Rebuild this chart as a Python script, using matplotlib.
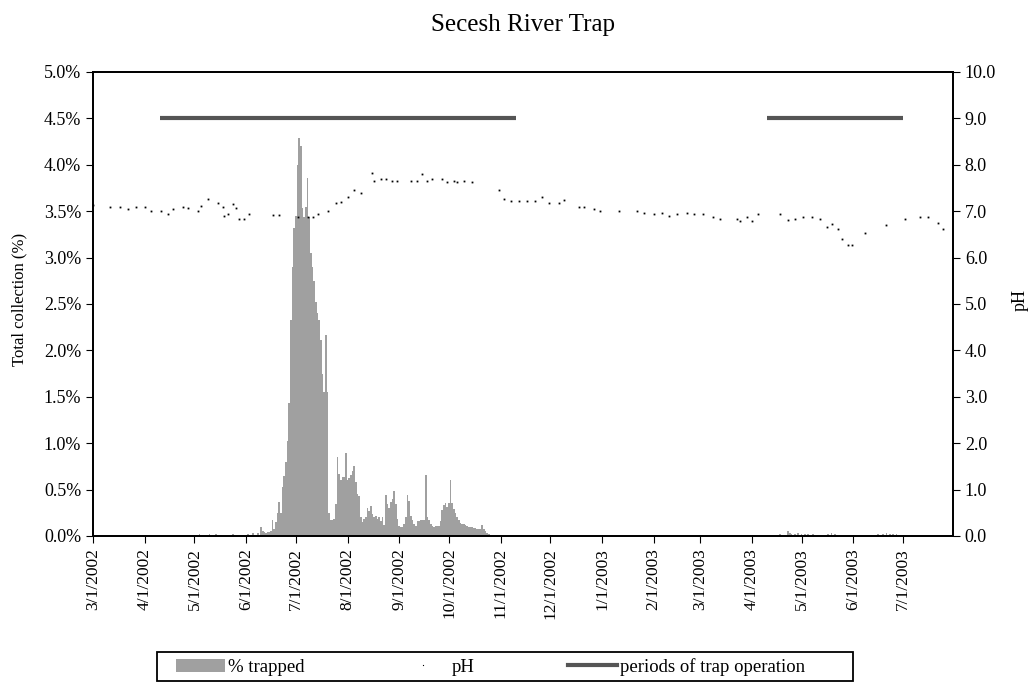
import numpy as np
import pandas as pd
import matplotlib
matplotlib.use("Agg")
import matplotlib.pyplot as plt
import matplotlib.dates as mdates
from matplotlib.ticker import FuncFormatter
from matplotlib.patches import Patch, Rectangle
from matplotlib.lines import Line2D

plt.rcParams['font.family'] = ['Liberation Serif', 'DejaVu Serif']

# daily % trapped, consecutive days starting 6/10/2002
trapped_start = "2002-06-10"
trapped_2002 = [
    0.10, 0.05, 0.04, 0.03, 0.04, 0.04, 0.05, 0.17, 0.08, 0.15,
    0.25, 0.37, 0.25, 0.53, 0.65, 0.80, 1.02, 1.43, 2.33, 2.90,
    3.32,
    3.45, 4.00, 4.29, 4.20, 3.53, 3.44, 3.54, 3.86, 3.44, 3.05,
    2.90, 2.75, 2.52, 2.40, 2.33, 2.11, 1.75, 1.55, 2.17, 1.55,
    0.25,
    0.17, 0.17, 0.18, 0.35, 0.85, 0.67, 0.60, 0.64, 0.64, 0.89,
    0.60, 0.62, 0.66, 0.70, 0.75, 0.58, 0.45, 0.43, 0.20, 0.15,
    0.18, 0.20, 0.30, 0.27, 0.32, 0.24, 0.20, 0.22, 0.18, 0.21,
    0.16, 0.20, 0.12, 0.44, 0.34, 0.30, 0.37, 0.40, 0.49, 0.35,
    0.18, 0.11, 0.10, 0.10, 0.13, 0.20, 0.44, 0.38, 0.22, 0.17,
    0.13, 0.11, 0.16, 0.16, 0.17, 0.17, 0.17, 0.66, 0.20, 0.17,
    0.13, 0.11, 0.10, 0.11, 0.11, 0.11, 0.16, 0.28, 0.33, 0.36,
    0.31, 0.36, 0.60, 0.36, 0.29, 0.25, 0.20, 0.17, 0.14, 0.13,
    0.13, 0.12, 0.11, 0.10, 0.10, 0.10, 0.09, 0.09, 0.08, 0.08,
    0.08, 0.12, 0.08, 0.05, 0.03, 0.02,
]

# scattered small catches
other_dates = ["2002-05-04", "2002-05-10", "2002-05-14", "2002-05-17", "2002-05-24",
               "2002-06-02", "2002-06-05", "2002-06-08",
               "2003-04-17", "2003-04-18", "2003-04-23", "2003-04-24", "2003-04-25",
               "2003-04-27", "2003-04-29", "2003-05-01", "2003-05-03", "2003-05-05",
               "2003-05-08", "2003-05-11", "2003-05-17", "2003-05-19", "2003-05-21",
               "2003-06-12", "2003-06-16", "2003-06-19", "2003-06-21", "2003-06-23",
               "2003-06-25", "2003-06-27", "2003-06-29"]
other_vals = [0.02, 0.02, 0.02, 0.01, 0.02, 0.02, 0.03, 0.03,
              0.01, 0.02, 0.05, 0.03, 0.02, 0.02, 0.03, 0.02, 0.02, 0.02,
              0.02, 0.01, 0.02, 0.03, 0.02,
              0.01, 0.02, 0.02, 0.03, 0.02, 0.02, 0.02, 0.01]

ph_dates = ["2002-03-01", "2002-03-11", "2002-03-17", "2002-03-22", "2002-03-27",
            "2002-04-01", "2002-04-05", "2002-04-11", "2002-04-15", "2002-04-18",
            "2002-04-24", "2002-04-27", "2002-05-03", "2002-05-05", "2002-05-09",
            "2002-05-15", "2002-05-18", "2002-05-19", "2002-05-21", "2002-05-24",
            "2002-05-26", "2002-05-28", "2002-05-31", "2002-06-03", "2002-06-17",
            "2002-06-21", "2002-07-02", "2002-07-08", "2002-07-11", "2002-07-14",
            "2002-07-20", "2002-07-25", "2002-07-28", "2002-08-01", "2002-08-05",
            "2002-08-09", "2002-08-16", "2002-08-17", "2002-08-21", "2002-08-24",
            "2002-08-28", "2002-08-31", "2002-09-08", "2002-09-12", "2002-09-15",
            "2002-09-18", "2002-09-21", "2002-09-27", "2002-09-30", "2002-10-04",
            "2002-10-06", "2002-10-10", "2002-10-15", "2002-10-31", "2002-11-03",
            "2002-11-07", "2002-11-12", "2002-11-17", "2002-11-22", "2002-11-26",
            "2002-11-30", "2002-12-06", "2002-12-09", "2002-12-18", "2002-12-21",
            "2002-12-27", "2002-12-31", "2003-01-11", "2003-01-22", "2003-01-26",
            "2003-02-01", "2003-02-06", "2003-02-10", "2003-02-15", "2003-02-21",
            "2003-02-25", "2003-03-03", "2003-03-09", "2003-03-13", "2003-03-23",
            "2003-03-25", "2003-03-29", "2003-04-01", "2003-04-05", "2003-04-18",
            "2003-04-23", "2003-04-27", "2003-05-02", "2003-05-07", "2003-05-12",
            "2003-05-16", "2003-05-19", "2003-05-23", "2003-05-25", "2003-05-29",
            "2003-05-31", "2003-06-08", "2003-06-21", "2003-07-02", "2003-07-11",
            "2003-07-16", "2003-07-22", "2003-07-25"]
ph_vals = [7.13, 7.10, 7.10, 7.05, 7.08, 7.08, 7.00, 7.00, 6.93, 7.05,
           7.10, 7.07, 7.00, 7.12, 7.26, 7.17, 7.08, 6.90, 6.95, 7.15,
           7.06, 6.83, 6.83, 6.95, 6.92, 6.92, 6.88, 6.88, 6.88, 6.95,
           7.00, 7.17, 7.20, 7.30, 7.45, 7.40, 7.82, 7.65, 7.70, 7.70,
           7.65, 7.65, 7.65, 7.65, 7.80, 7.65, 7.70, 7.70, 7.62, 7.66,
           7.62, 7.66, 7.62, 7.45, 7.26, 7.22, 7.22, 7.22, 7.23, 7.31,
           7.17, 7.17, 7.24, 7.09, 7.09, 7.05, 7.00, 7.00, 7.00, 6.97,
           6.93, 6.97, 6.90, 6.93, 6.97, 6.93, 6.93, 6.88, 6.83, 6.83,
           6.78, 6.88, 6.78, 6.93, 6.93, 6.80, 6.83, 6.88, 6.88, 6.83,
           6.66, 6.72, 6.61, 6.40, 6.27, 6.27, 6.53, 6.70, 6.83, 6.88,
           6.88, 6.74, 6.61]

op_starts = ["2002-04-10", "2003-04-10"]
op_ends = ["2002-11-10", "2003-07-01"]
op_level = 4.5

bar_color = "#a0a0a0"
op_color = "#555555"

fig = plt.figure(figsize=(10.33, 6.83), dpi=100)
ax = fig.add_axes([93 / 1033, 1 - 536 / 683, 860 / 1033, 464 / 683])

d2002 = pd.date_range(trapped_start, periods=len(trapped_2002), freq="D")
ax.bar(d2002, trapped_2002, width=1.0, color=bar_color, linewidth=0, align="center")
ax.bar(pd.to_datetime(other_dates), other_vals, width=1.0, color=bar_color, linewidth=0)

for s, e in zip(op_starts, op_ends):
    ax.plot(pd.to_datetime([s, e]), [op_level, op_level], color=op_color, lw=3,
            solid_capstyle="butt")

ax.set_ylim(0, 5)
ax.set_yticks(np.arange(0, 5.01, 0.5))
ax.yaxis.set_major_formatter(FuncFormatter(lambda v, p: f"{v:.1f}%"))
ax.set_xlim(pd.Timestamp("2002-03-01"), pd.Timestamp("2003-07-31"))
ax.xaxis.set_major_locator(mdates.MonthLocator())
ax.xaxis.set_major_formatter(FuncFormatter(
    lambda v, p: f"{mdates.num2date(v).month}/{mdates.num2date(v).day}/{mdates.num2date(v).year}"))
ax.tick_params(axis="x", rotation=90, labelsize=12.5, length=5, direction="out")
ax.tick_params(axis="y", labelsize=13, length=5, direction="out")

ax2 = ax.twinx()
ax2.plot(pd.to_datetime(ph_dates), ph_vals, ls="none", marker="s", ms=1.3, mew=0,
         color="black")
ax2.set_ylim(0, 10)
ax2.set_yticks(np.arange(0, 10.01, 1))
ax2.yaxis.set_major_formatter(FuncFormatter(lambda v, p: f"{v:.1f}"))
ax2.tick_params(axis="y", labelsize=13, length=5, direction="out")

for a in (ax, ax2):
    for sp in a.spines.values():
        sp.set_linewidth(1.3)

fig.text(0.506, 0.963, "Secesh River Trap", ha="center", va="center", fontsize=18)
fig.text(0.019, 0.561, "Total collection (%)", rotation=90, ha="center", va="center",
         fontsize=12)
fig.text(0.988, 0.561, "pH", rotation=90, ha="center", va="center", fontsize=13)

# legend box drawn separately so it can be sized like the reference
fig.add_artist(Rectangle((157 / 1033, 2 / 683), 696 / 1033, 29 / 683,
                         transform=fig.transFigure, fill=False, edgecolor="black", lw=1.3))
handles = [Patch(facecolor=bar_color, edgecolor="none"),
           Line2D([], [], ls="none", marker="s", ms=0.8, mew=0, color="black"),
           Line2D([], [], color=op_color, lw=3)]
fig.legend(handles, ["% trapped", "pH", "periods of trap operation"],
           loc="center left", bbox_to_anchor=(176 / 1033, 1 - 667 / 683),
           ncol=3, frameon=False, fontsize=13.5, handlelength=2.6, borderpad=0,
           borderaxespad=0, handletextpad=0.2, columnspacing=5.0)

fig.savefig("out.png", dpi=100)
